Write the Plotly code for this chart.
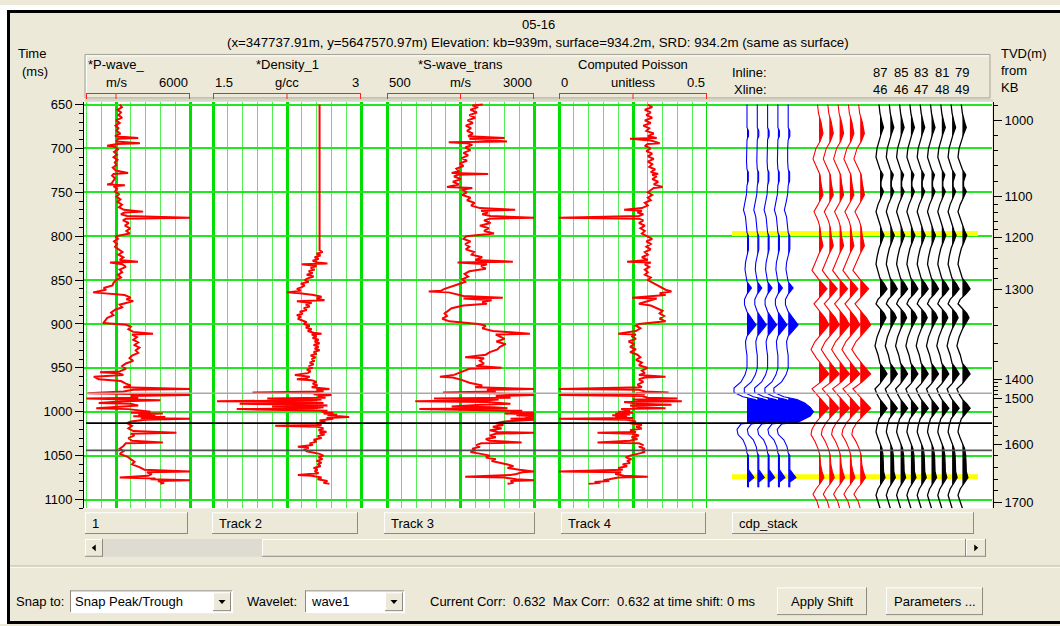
import plotly.graph_objects as go

W, H = 1060, 626
def fx(x): return x / W
def fy(y): return 1 - y / H

FONT = "Liberation Sans, Arial, Helvetica, sans-serif"
BG = "#ECE9D8"
GRID_MAJOR = "#00e000"
GRID_MINOR = "#55ee55"
GRID_H = "#22e622"

# ---------------- data ----------------
title1 = "05-16"
title2 = "(x=347737.91m, y=5647570.97m) Elevation: kb=939m, surface=934.2m, SRD: 934.2m (same as surface)"
status_text = "Current Corr:  0.632  Max Corr:  0.632 at time shift: 0 ms"

# log curves: (time ms, value)
pwave = [(650,3150),(653,3240),(656,3060),(659,3200),(662,3100),(665,3250),(668,3000),(671,3150),(674,2980),(677,3100),
         (680,3020),(683,3180),(686,2960),(688,3900),(689,3100),(692,3000),(694,3970),(695,3050),(697,2640),(698,2950),
         (701,3080),(704,2920),(707,3040),(710,2900),(713,3060),(716,2950),(719,3020),(722,2870),(725,2980),(728,3490),
         (729,2900),(731,2840),(734,2960),(737,2880),(740,2820),(741,2640),(742,3360),(743,2900),(746,3040),(749,2960),
         (752,3120),(755,3020),(758,3180),(761,3060),(764,3240),(767,3120),(770,3320),(772,4100),(773,3350),(775,3200),
         (777,3450),(779,6000),(780,3400),(782,3280),(785,3520),(788,3360),(791,3580),(794,3420),(797,3560),(800,2980),
         (803,3080),(806,2920),(809,3040),(812,2960),(815,3120),(818,3260),(821,3100),(824,3300),(827,3150),(829,3890),
         (830,2760),(832,3250),(835,3400),(838,3150),(841,3250),(844,3080),(847,3200),(850,3000),(853,2900),(856,2860),
         (859,2500),(861,2600),(864,2070),(865,2420),(867,3350),(870,3600),(872,3420),(874,3700),(876,3350),(878,3150),
         (881,3250),(884,2950),(887,2800),(890,2900),(893,2650),(896,2550),(899,2480),(901,3400),(903,3600),(906,3500),
         (909,3700),(911,4500),(912,3650),(915,3850),(918,3700),(921,3900),(924,3750),(927,3950),(930,3800),(933,3900),
         (936,3650),(939,3550),(942,3700),(945,3400),(948,3250),(951,3400),(954,3150),(955,2350),(956,3100),(958,3300),
         (960,2100),(963,2300),(965,3200),(968,3400),(970,3600),(972,3300),(974,6000),(975,3700),(977,3300),(979,1850),
         (980,3800),(981,6000),(982,3600),(984,3900),(985,1800),(986,3700),(987,4800),(988,3300),(990,2300),(991,3600),
         (993,3900),(994,3300),(996,2200),(997,3500),(999,4100),(1000,4400),(1001,3600),(1002,4900),(1003,3900),(1004,4600),
         (1005,3700),(1006,5000),(1007,4000),(1008,6000),(1009,4200),(1011,3600),(1013,3450),(1016,3650),(1019,3500),(1022,3700),
         (1024,5450),(1025,3600),(1027,3750),(1030,3500),(1033,3650),(1035,4900),(1036,3400),(1039,3300),(1042,3150),(1045,3300),
         (1048,3150),(1051,3450),(1054,3600),(1057,3750),(1060,3650),(1063,3950),(1066,4150),(1068,6000),(1069,4250),(1071,4450),
         (1073,4300),(1075,3150),(1076,4600),(1077,4400),(1078,6000),(1079,4700),(1081,4950),(1082,4800)]

density = [(650,2.58),(816,2.58),(818,2.61),(820,2.55),(822,2.59),(824,2.53),(826,2.57),(828,2.51),(830,2.56),(831,2.66),
           (832,2.40),(834,2.55),(836,2.49),(838,2.53),(840,2.47),(842,2.51),(844,2.45),(846,2.52),(848,2.46),(850,2.43),
           (852,2.47),(854,2.39),(856,2.43),(858,2.40),(860,2.35),(862,2.39),(864,2.25),(865,2.38),(867,2.52),(869,2.60),
           (871,2.55),(873,2.63),(874,2.35),(876,2.50),(878,2.44),(880,2.48),(882,2.42),(884,2.45),(886,2.38),(888,2.41),
           (890,2.35),(892,2.39),(894,2.36),(896,2.41),(898,2.45),(900,2.42),(902,2.48),(904,2.44),(906,2.50),(908,2.46),
           (910,2.52),(911,2.60),(912,2.50),(914,2.55),(916,2.51),(918,2.57),(920,2.53),(922,2.58),(924,2.52),(926,2.57),
           (928,2.53),(930,2.58),(932,2.52),(934,2.55),(936,2.49),(938,2.54),(940,2.50),(942,2.53),(944,2.48),(946,2.52),
           (948,2.47),(950,2.51),(952,2.45),(954,2.49),(956,2.46),(958,2.33),(960,2.48),(962,2.44),(963,2.35),(964,2.50),
           (966,2.55),(968,2.51),(970,2.56),(972,2.50),(974,2.68),(975,2.55),(977,2.62),(978,1.90),(979,2.58),(980,2.52),
           (981,2.70),(982,2.56),(984,2.64),(985,2.05),(986,2.60),(987,2.50),(988,1.54),(989,2.45),(990,2.62),(991,1.77),
           (992,2.55),(993,2.66),(994,2.10),(995,2.62),(996,2.52),(997,1.74),(998,2.50),(999,2.66),(1000,2.60),(1001,2.72),
           (1002,2.62),(1003,2.76),(1004,2.66),(1005,2.74),(1006,2.88),(1007,2.65),(1008,2.72),(1010,2.58),(1012,2.64),(1013,2.55),
           (1015,2.60),(1016,2.13),(1017,2.56),(1019,2.62),(1021,2.57),(1023,2.65),(1024,2.58),(1026,2.63),(1028,2.56),(1030,2.60),
           (1032,2.52),(1034,2.55),(1036,2.48),(1038,2.51),(1040,2.36),(1041,2.47),(1043,2.43),(1045,2.45),(1048,2.58),(1050,2.62),
           (1052,2.57),(1054,2.61),(1056,2.55),(1058,2.60),(1060,2.56),(1062,2.59),(1064,2.52),(1066,2.56),(1068,2.53),(1070,2.57),
           (1072,2.36),(1073,2.50),(1075,2.60),(1077,2.56),(1079,2.66),(1081,2.62),(1082,2.68)]

swave = [(650,2130),(651,1950),(653,2050),(656,1920),(659,2030),(662,1900),(665,2000),(668,1870),(671,1960),(674,1840),
         (677,1930),(680,1860),(683,1960),(686,1880),(688,2500),(689,1900),(692,2540),(693,1550),(694,1850),(696,1950),
         (699,1830),(702,1920),(705,1800),(708,1880),(711,1770),(714,1860),(717,1740),(720,1800),(723,1680),(726,1720),
         (728,1600),(729,2220),(730,1700),(732,1640),(735,1760),(738,1620),(741,1720),(743,1580),(744,1520),(745,1950),
         (747,1780),(750,1860),(753,1780),(756,1920),(759,1860),(762,1990),(765,1930),(768,2080),(770,2680),(771,2100),
         (773,2220),(775,2120),(777,2260),(779,3000),(780,2250),(782,2150),(785,2260),(788,2080),(791,2230),(794,2150),
         (797,2320),(800,1850),(803,1800),(806,1920),(809,1830),(812,1900),(815,1840),(818,1980),(821,1940),(824,2120),
         (827,2000),(829,2640),(830,1700),(832,2200),(834,2100),(837,2180),(840,1900),(843,1820),(846,1880),(849,1780),
         (852,1830),(855,1700),(858,1560),(860,1480),(862,1420),(863,1210),(864,1550),(866,1680),(868,1800),(870,2470),
         (871,1800),(873,2280),(875,2120),(877,2200),(879,1800),(882,1600),(885,1540),(888,1480),(891,1520),(894,1440),
         (897,1560),(900,2050),(902,2180),(905,2120),(908,2300),(911,2930),(912,2350),(914,2420),(917,2500),(920,2360),
         (923,2520),(926,2420),(929,2380),(932,2250),(935,2180),(938,1830),(939,2150),(942,2080),(945,2150),(948,2020),
         (950,2450),(951,1900),(953,1820),(956,1720),(958,1640),(960,1400),(961,1620),(964,1780),(967,1900),(970,2120),
         (972,2000),(974,3000),(975,2200),(977,2350),(978,1450),(979,2300),(981,3000),(982,2350),(984,2600),(985,1300),
         (986,2400),(987,2200),(988,980),(989,2200),(991,2600),(992,2100),(994,1600),(995,2300),(996,2550),(997,1050),
         (998,2250),(999,2800),(1000,2600),(1001,3000),(1002,2500),(1003,3000),(1004,2700),(1005,3000),(1006,2850),(1007,3000),
         (1008,2600),(1009,3000),(1011,2500),(1013,2350),(1015,2480),(1017,2300),(1019,2450),(1021,2250),(1023,2380),(1024,3000),
         (1025,2350),(1027,2250),(1029,2350),(1031,2180),(1033,2250),(1035,2790),(1036,2100),(1038,2020),(1040,2080),(1042,1950),
         (1044,2000),(1046,1920),(1048,2100),(1050,2250),(1052,2180),(1054,2350),(1056,2280),(1058,2450),(1060,2550),(1062,2650),
         (1064,2550),(1066,2750),(1068,3000),(1069,2800),(1071,2700),(1072,2600),(1074,1830),(1075,2500),(1077,2700),(1078,3000),
         (1079,2600),(1081,2650),(1082,2550)]

poisson = [(650,0.30),(653,0.315),(656,0.29),(659,0.31),(662,0.295),(665,0.315),(668,0.29),(671,0.31),(674,0.285),(677,0.305),
           (680,0.295),(683,0.32),(686,0.30),(688,0.33),(689,0.24),(691,0.31),(694,0.34),(695,0.30),(697,0.29),(700,0.31),
           (703,0.295),(706,0.315),(709,0.30),(712,0.32),(715,0.30),(718,0.315),(721,0.305),(724,0.325),(727,0.31),(729,0.335),
           (730,0.315),(732,0.33),(735,0.315),(738,0.335),(741,0.32),(743,0.345),(744,0.35),(745,0.32),(747,0.31),(750,0.30),
           (753,0.315),(756,0.30),(759,0.31),(762,0.29),(765,0.30),(768,0.28),(770,0.22),(771,0.28),(773,0.265),(775,0.285),
           (777,0.27),(779,0.0),(780,0.27),(782,0.285),(785,0.27),(788,0.29),(791,0.275),(794,0.29),(797,0.28),(800,0.30),
           (803,0.315),(806,0.295),(809,0.31),(812,0.295),(815,0.31),(818,0.29),(821,0.30),(824,0.28),(827,0.30),(829,0.23),
           (830,0.31),(832,0.29),(835,0.305),(838,0.29),(841,0.30),(844,0.29),(847,0.31),(850,0.30),(853,0.315),(856,0.33),
           (859,0.35),(861,0.36),(863,0.38),(865,0.34),(867,0.36),(870,0.247),(871,0.33),(873,0.31),(875,0.29),(877,0.27),
           (879,0.31),(882,0.33),(885,0.35),(888,0.34),(891,0.355),(894,0.34),(897,0.36),(900,0.27),(902,0.26),(905,0.275),
           (908,0.26),(911,0.20),(912,0.26),(914,0.245),(917,0.26),(920,0.235),(923,0.255),(926,0.24),(929,0.26),(932,0.24),
           (935,0.265),(938,0.275),(941,0.26),(944,0.28),(947,0.27),(950,0.30),(953,0.28),(956,0.29),(958,0.27),(960,0.36),
           (961,0.29),(963,0.27),(966,0.285),(969,0.265),(972,0.28),(974,0.0),(975,0.27),(977,0.29),(978,0.37),(979,0.26),
           (980,0.29),(981,0.0),(982,0.28),(984,0.30),(985,0.40),(986,0.25),(987,0.28),(988,0.415),(989,0.22),(991,0.27),
           (992,0.38),(993,0.24),(995,0.27),(996,0.36),(997,0.21),(999,0.24),(1000,0.20),(1001,0.25),(1002,0.19),(1003,0.24),
           (1004,0.18),(1005,0.23),(1006,0.19),(1007,0.25),(1008,0.0),(1009,0.23),(1011,0.26),(1013,0.24),(1015,0.28),(1017,0.26),
           (1019,0.28),(1021,0.24),(1023,0.26),(1024,0.13),(1025,0.25),(1027,0.27),(1029,0.245),(1031,0.265),(1033,0.24),(1035,0.13),
           (1036,0.27),(1038,0.285),(1040,0.27),(1042,0.29),(1044,0.28),(1046,0.29),(1048,0.26),(1050,0.24),(1052,0.225),(1054,0.245),
           (1056,0.23),(1058,0.24),(1060,0.215),(1062,0.23),(1064,0.20),(1066,0.215),(1068,0.0),(1069,0.21),(1071,0.19),(1073,0.22),
           (1074,0.30),(1075,0.20),(1077,0.17),(1078,0.15),(1079,0.17),(1080,0.12),(1081,0.14),(1082,0.10)]

track_titles = ["*P-wave_", "*Density_1", "*S-wave_trans", "Computed Poisson"]
track_units = ["m/s", "g/cc", "m/s", "unitless"]
track_min = [0, 1.5, 500, 0]
track_max = [6000, 3, 3000, 0.5]
track_left_label = ["", "1.5", "500", "0"]
track_right_label = ["6000", "3", "3000", "0.5"]
track_names = ["1", "Track 2", "Track 3", "Track 4", "cdp_stack"]

# seismic wiggles: (time ms, amplitude)
blue_wiggle = [(650,0),(676,0),(680,1.5),(686,1.5),(690,0),(700,-0.5),(715,-0.5),(724,0),(727,1.3),(737,1.3),(742,0),
               (752,-0.5),(762,-2),(770,-3.5),(778,-1.5),(790,-0.5),(796,0),(800,1.5),(815,1.5),(822,0),(830,-1.5),
               (838,-2),(846,-0.5),(852,0),(859,4.5),(866,0),(872,-2.5),(878,-2.5),(886,0),(901,9),(914,0),(920,-1.5),
               (928,-1),(936,0),(950,0),(958,-2),(966,-6),(973,-13),(978,-13),(983,-4),(986,8),(990,15),(995,20),
               (1000,23),(1005,20),(1009,14),(1012,9),(1014,-6),(1020,-10),(1026,-9),(1032,-4),(1040,-1),(1047,0),
               (1050,1.5),(1066,1.5),(1075,7),(1080,1.5),(1086,1.5)]
red_wiggle = [(650,-1.5),(660,-0.5),(670,2),(683,4),(692,1),(700,-3),(712,-6),(722,-2),(730,1),(740,2),(753,4),(762,0),
              (772,-5),(782,-1),(790,1),(800,2),(811,4),(820,0),(830,-4),(839,-7),(848,-1),(853,3),(860,8),(868,2),
              (877,-5),(886,1),(893,6),(901,10),(910,3),(920,-4),(929,-8),(938,-3),(947,3),(957,10),(966,2),(974,-7),
              (982,-1),(988,4),(996,10),(1004,3),(1012,-3),(1020,-7),(1026,-8),(1034,-4),(1042,-1),(1050,1),(1060,1.5),
              (1068,3),(1075,5),(1082,1),(1088,-3),(1094,-6),(1102,-2),(1110,0)]
black_wiggle = [(650,-1),(660,0),(670,2),(676,3.5),(684,1),(692,-1),(700,-3),(710,-4),(718,-2),(724,0),(730,3),(738,1),
                (743,1),(749,3.5),(756,1),(764,-2),(772,-4),(780,-2),(788,0),(794,2),(799,4),(806,2),(814,-1),(824,-3),
                (832,-4),(840,-2),(848,0),(854,4),(860,7),(866,3),(872,-2),(877,-4),(883,0),(888,4),(893,6),(899,3),
                (906,0),(915,-3),(925,-5),(935,-2),(945,0),(951,4),(957,7),(963,3),(968,0),(974,-5),(980,-3),(986,0),
                (991,4),(996,7),(1002,3),(1008,-1),(1016,-3),(1023,-4),(1030,-2),(1036,0),(1042,2),(1050,3),(1060,3.5),
                (1068,3.5),(1075,5),(1082,1),(1088,-2),(1095,-4),(1102,-2),(1110,0)]
blue_gain = [1, 1, 1, 1, 1.1]
red_gain = [1, 1, 1, 1, 1.05]
black_gain = [1, 1, 1, 1, 1, 1, 1, 1, 1.1]
inline_labels = [87, 85, 83, 81, 79]
xline_labels = [46, 46, 47, 48, 49]

tvd_labels = [1000, 1100, 1200, 1300, 1400, 1500, 1600, 1700]
tvd_times = [668.0, 754.6, 801.9, 860.4, 962.7, 985.2, 1037.0, 1103.4]
marker_times = [979, 1013, 1044]
marker_colors = ["#a8a8a8", "#000000", "#505050"]
horizon_times = [797, 1074]

# ---------------- geometry ----------------
PLOT_TOP, PLOT_BOT, PLOT_L, PLOT_R = 98, 509, 86, 992
T_TOP, T_BOT = 647, 1110
track_px = [(42, 190), (213, 361), (387, 534), (559, 707)]
SEIS_L, SEIS_R = 707, 992
SP = 10.3
PAD = 2
group_start = {"blue": 40, "red": 112, "black": 173}

fig = go.Figure()
fig.add_trace(go.Scatter(x=[None], y=[None], xaxis="x", yaxis="y", showlegend=False, hoverinfo="skip"))
fig.add_trace(go.Scatter(x=[None], y=[None], xaxis="x", yaxis="y2", showlegend=False, hoverinfo="skip"))
fig.add_trace(go.Scatter(x=[None], y=[None], xaxis="x", yaxis="y3", showlegend=False, hoverinfo="skip"))

layout_axes = {}
shapes = []
ann = []

def hline(x0, x1, y, color, width=1):
    shapes.append(dict(type="line", xref="paper", yref="paper", x0=fx(x0), x1=fx(x1), y0=fy(y), y1=fy(y),
                       line=dict(color=color, width=width)))
def vline(x, y0, y1, color, width=1):
    shapes.append(dict(type="line", xref="paper", yref="paper", x0=fx(x), x1=fx(x), y0=fy(y0), y1=fy(y1),
                       line=dict(color=color, width=width)))
def rect(x0, y0, x1, y1, fill, line_color=None, width=1):
    shapes.append(dict(type="rect", xref="paper", yref="paper", x0=fx(x0), x1=fx(x1), y0=fy(y1), y1=fy(y0),
                       fillcolor=fill, line=dict(color=line_color or fill, width=width if line_color else 0)))
def bevel(x0, y0, x1, y1, raised=True, fill=BG):
    rect(x0, y0, x1, y1, fill)
    lt, dk = ("white", "#8d8b80") if raised else ("#8d8b80", "white")
    hline(x0, x1, y0 + 0.5, lt); vline(x0 + 0.5, y0, y1, lt)
    hline(x0, x1, y1 - 0.5, dk); vline(x1 - 0.5, y0, y1, dk)
def tri(cx, cy, direction, s=3.5):
    if direction == "down":
        pts = [(cx - s, cy - s / 2), (cx + s, cy - s / 2), (cx, cy + s / 2 + 0.5)]
    elif direction == "left":
        pts = [(cx + s / 2, cy - s), (cx + s / 2, cy + s), (cx - s / 2 - 0.5, cy)]
    else:
        pts = [(cx - s / 2, cy - s), (cx - s / 2, cy + s), (cx + s / 2 + 0.5, cy)]
    path = "M " + " L ".join(f"{fx(a)},{fy(b)}" for a, b in pts) + " Z"
    shapes.append(dict(type="path", xref="paper", yref="paper", path=path, fillcolor="black", line=dict(color="black", width=0)))
def text(x, y, s, anchor="left", size=13, xref="paper"):
    ann.append(dict(x=fx(x) if xref == "paper" else x, y=fy(y), xref=xref, yref="paper", text=s, showarrow=False,
                    xanchor=anchor, yanchor="middle", font=dict(family=FONT, size=size, color="black")))

HDR = -2.5  # vertical nudge for header texts

# ---- window chrome ----
rect(0, 0, W, 5, "white")
rect(0, 0, 7, H, "white")
rect(7, 5, W, 8, "black")
rect(7, 5, 10, H, "black")
rect(7, 623, W, H, "black")

# header box
rect(85, 50, 990, 94, BG, "#a5a395", 1)
hline(86, 989, 51.5, "white")
vline(86.5, 51, 93, "white")
rect(85, 95, 993, 97.5, "#d8d5c8")

text(538, 22 + HDR, title1, "center", 13)
text(538, 40 + HDR, title2, "center", 13.3)
text(32, 52 + HDR, "Time", "center", 13)
text(35, 70 + HDR, "(ms)", "center", 13)
text(999, 52 + HDR, "TVD(m)", "left", 13)
text(999, 69 + HDR, "from", "left", 13)
text(999, 86 + HDR, "KB", "left", 13)

# ---- log tracks ----
logs = [pwave, density, swave, poisson]
for i in range(4):
    ax_id = i + 2
    p0, p1 = track_px[i]
    lo, hi = track_min[i], track_max[i]
    span = hi - lo
    k = span / (p1 - p0)           # value per pixel
    vis_p0 = max(p0, PLOT_L)
    d0, d1 = vis_p0 - PAD, p1 + PAD
    r0 = lo + (d0 - p0) * k
    r1 = hi + PAD * k
    layout_axes[f"xaxis{ax_id}"] = dict(
        domain=[fx(d0), fx(d1)], range=[r0, r1], anchor="y",
        showticklabels=False, ticks="", showline=False, zeroline=False, fixedrange=True,
        showgrid=True, gridcolor=GRID_MAJOR, gridwidth=2.5, tick0=lo, dtick=span / 2,
        minor=dict(tick0=lo, dtick=span / 10, showgrid=True, gridcolor=GRID_MINOR, gridwidth=1.4))
    xa = f"x{ax_id}"
    t, v = zip(*logs[i])
    fig.add_trace(go.Scatter(x=list(v), y=list(t), xaxis=xa, yaxis="y", mode="lines",
                             line=dict(color="#ff0000", width=2.0, shape="linear"),
                             showlegend=False, hoverinfo="skip"))
    mid = (lo + hi) / 2
    text(mid, 63 + HDR, track_titles[i], "center", 13, xref=xa)
    text(mid, 81 + HDR, track_units[i], "center", 13, xref=xa)
    if track_left_label[i]:
        text(lo, 81 + HDR, track_left_label[i], "left", 13, xref=xa)
    text(hi, 81 + HDR, track_right_label[i], "right", 13, xref=xa)
    mid_px = (p0 + p1) / 2
    hline(vis_p0, p1, 89.5, "#ff2020")
    for xp in (vis_p0 + 0.5, mid_px, p1 - 0.5):
        vline(xp, 89, 95, "#ff2020")

# ---- seismic ----
layout_axes["xaxis6"] = dict(domain=[fx(SEIS_L), fx(SEIS_R)], range=[0, SEIS_R - SEIS_L], anchor="y",
                             showticklabels=False, ticks="", showline=False, zeroline=False,
                             showgrid=False, fixedrange=True)

def pos_part(t, a):
    pt, pa = [], []
    for i in range(len(t)):
        if i > 0 and (a[i - 1] > 0) != (a[i] > 0) and a[i] != a[i - 1]:
            tc = t[i - 1] + (t[i] - t[i - 1]) * (-a[i - 1]) / (a[i] - a[i - 1])
            pt.append(tc); pa.append(0)
        pt.append(t[i]); pa.append(max(a[i], 0))
    return pt, pa

for name, wig, gains, color, lw in [("blue", blue_wiggle, blue_gain, "#0000ff", 1.1),
                                    ("red", red_wiggle, red_gain, "#ff0000", 1.1),
                                    ("black", black_wiggle, black_gain, "#000000", 1.3)]:
    t, a = zip(*wig)
    pt, pa = pos_part(t, a)
    lx, ly, fxs, fys = [], [], [], []
    for kk, g in enumerate(gains):
        base = group_start[name] + kk * SP
        lx += [base + g * v for v in a] + [None]
        ly += list(t) + [None]
        fxs += [base + g * v for v in pa] + [base, base, None]
        fys += pt + [pt[-1], pt[0], None]
    fig.add_trace(go.Scatter(x=fxs, y=fys, xaxis="x6", yaxis="y", mode="lines", fill="toself",
                             fillcolor=color, line=dict(width=0, color=color),
                             showlegend=False, hoverinfo="skip"))
    fig.add_trace(go.Scatter(x=lx, y=ly, xaxis="x6", yaxis="y", mode="lines",
                             line=dict(color=color, width=lw), showlegend=False, hoverinfo="skip"))

for kk, (il, xl) in enumerate(zip(inline_labels, xline_labels)):
    xpos = group_start["black"] + 2 * kk * SP
    text(xpos, 71 + HDR, str(il), "center", 13, xref="x6")
    text(xpos, 88 + HDR, str(xl), "center", 13, xref="x6")
text(730, 71 + HDR, "Inline:", "left", 13)
text(732, 88 + HDR, "Xline:", "left", 13)

for ht in horizon_times:
    shapes.append(dict(type="line", xref="x6", yref="y", x0=25, x1=271, y0=ht, y1=ht,
                       line=dict(color="#ffff00", width=5), layer="between"))

for mt, mc in zip(marker_times, marker_colors):
    shapes.append(dict(type="line", xref="x", yref="y", x0=0, x1=1, y0=mt, y1=mt,
                       line=dict(color=mc, width=1.6), layer="above"))

# ---- axes ----
tvd_minor = [tvd_times[0] - (tvd_times[1] - tvd_times[0]) / 5]
for i in range(len(tvd_times) - 1):
    for kk in range(1, 5):
        tvd_minor.append(tvd_times[i] + kk / 5 * (tvd_times[i + 1] - tvd_times[i]))

ydom = [fy(PLOT_BOT), fy(PLOT_TOP)]
layout_axes["xaxis"] = dict(domain=[fx(PLOT_L), fx(PLOT_R)], range=[0, 1], anchor="y", showticklabels=False,
                            ticks="", showline=False, zeroline=False, showgrid=False, fixedrange=True)
layout_axes["yaxis"] = dict(domain=ydom, range=[T_BOT, T_TOP], anchor="free", position=fx(83),
                            ticks="outside", ticklen=8, tickcolor="black", tickwidth=1, tick0=0, dtick=50,
                            showline=True, linecolor="black", linewidth=1, zeroline=False,
                            showgrid=True, gridcolor=GRID_H, gridwidth=1.6,
                            tickfont=dict(family=FONT, size=13, color="black"),
                            minor=dict(tick0=0, dtick=10, ticks="outside", ticklen=4, tickcolor="black", showgrid=False),
                            fixedrange=True)
layout_axes["yaxis2"] = dict(overlaying="y", range=[T_BOT, T_TOP], anchor="free", position=fx(993), side="right",
                             tickmode="array", tickvals=tvd_times, ticktext=[str(v) for v in tvd_labels],
                             ticks="outside", ticklen=8, tickcolor="black", showline=True, linecolor="black",
                             linewidth=1, showgrid=False, zeroline=False,
                             tickfont=dict(family=FONT, size=13, color="black"), fixedrange=True)
layout_axes["yaxis3"] = dict(overlaying="y", range=[T_BOT, T_TOP], anchor="free", position=fx(993), side="right",
                             tickmode="array", tickvals=tvd_minor, showticklabels=False,
                             ticks="outside", ticklen=4, tickcolor="black", showline=False,
                             showgrid=False, zeroline=False, fixedrange=True)

# ---- bottom widgets ----
btn_px = [(85, 188), (212, 358), (384, 535), (561, 706), (732, 974)]
for (x0, x1), nm in zip(btn_px, track_names):
    bevel(x0, 513, x1, 535)
    text(x0 + 5, 524.5, nm, "left", 13)

rect(85, 540, 986, 558, "#dedbd0")
bevel(85, 540, 103, 558); tri(94, 549, "left")
bevel(262, 540, 966, 558)
bevel(966, 540, 986, 558); tri(976, 549, "right")

hline(10, W, 567.5, "#aca899")
hline(10, W, 568.5, "white")

text(14, 603, "Snap to:", "left", 13)
bevel(70, 592, 233, 615, raised=False, fill="white")
text(73, 603.5, "Snap Peak/Trough", "left", 13)
bevel(213, 594, 231, 613); tri(222, 603.5, "down")
text(245, 603, "Wavelet:", "left", 13)
bevel(305, 592, 405, 615, raised=False, fill="white")
text(309, 603.5, "wave1", "left", 13)
bevel(385, 594, 403, 613); tri(394, 603.5, "down")
text(428, 603, status_text, "left", 13)
bevel(777, 589, 867, 617); text(822, 603, "Apply Shift", "center", 13)
bevel(886, 589, 983, 617); text(934.5, 603, "Parameters ...", "center", 13)

fig.update_layout(width=W, height=H, margin=dict(l=0, r=0, t=0, b=0),
                  paper_bgcolor=BG, plot_bgcolor="white", showlegend=False,
                  shapes=shapes, annotations=ann, **layout_axes)
fig.write_html("out.html")
